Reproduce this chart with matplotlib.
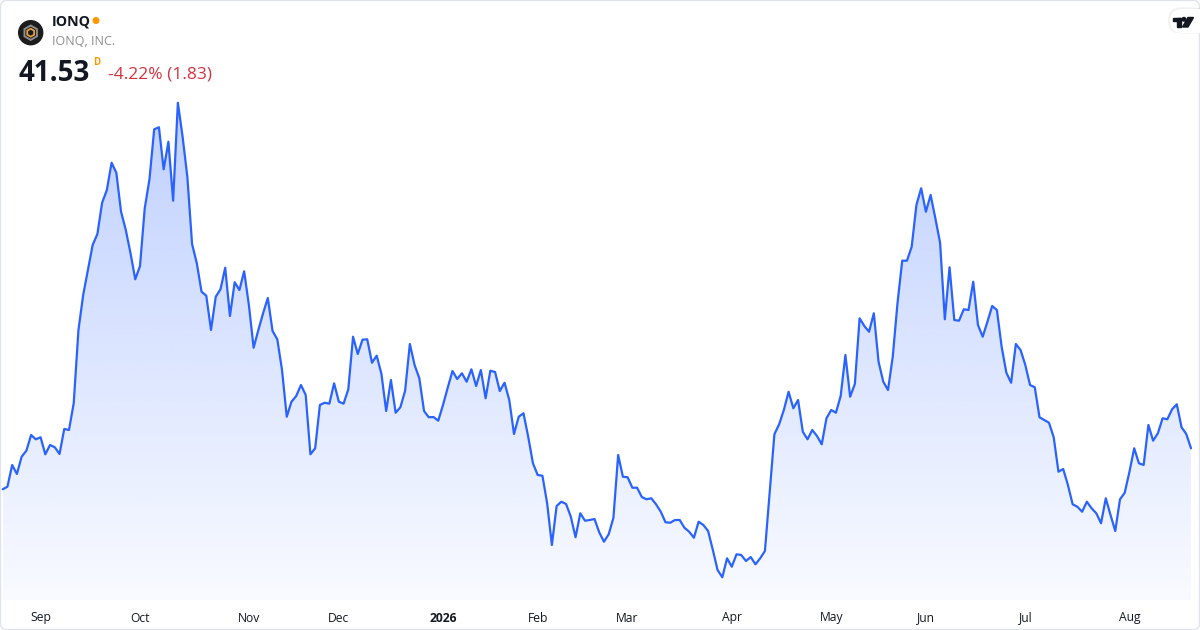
import numpy as np
import matplotlib
matplotlib.use("Agg")
import matplotlib.pyplot as plt
from matplotlib.patches import Circle, RegularPolygon, FancyBboxPatch, Polygon, Rectangle
from matplotlib.colors import to_rgb

# ---------------- data ----------------
ticker = "IONQ"
company = "IONQ, INC."
last_price = 41.53
change_pct = -4.22
change_abs = 1.83

prices = [
    36.28, 36.61, 39.39, 38.24, 40.45, 41.22, 43.23, 42.68, 42.94, 40.76,
    41.95, 41.66, 40.80, 44.00, 43.87, 47.29, 56.67, 61.15, 64.35, 67.55,
    68.96, 72.96, 74.59, 78.08, 76.80, 71.81, 69.47, 66.49, 63.16, 64.86,
    72.25, 75.96, 82.36, 82.62, 77.24, 80.77, 73.22, 85.76, 81.41, 76.29,
    67.68, 65.21,
    61.57, 61.06, 56.67, 60.93, 61.88, 64.64, 58.46, 62.78, 61.79, 64.18,
    59.87, 54.40, 56.67, 58.81, 60.77, 56.54, 55.48, 51.55, 45.57, 47.49,
    48.22, 49.63, 48.35, 40.76, 41.53, 47.07, 47.36, 47.24, 49.85, 47.49,
    47.24, 49.08, 55.81, 53.60, 55.43, 55.48, 52.48, 53.38, 51.04, 46.30,
    50.27, 46.08,
    46.78, 48.90, 54.88, 52.19, 50.49, 46.30, 45.50, 45.53, 45.06, 47.07,
    49.28, 51.42, 50.40, 51.13, 50.05, 51.64, 49.50, 51.55, 47.93, 51.46,
    51.29, 48.86, 49.92, 47.71, 43.36, 45.57, 46.01, 43.01, 39.61, 38.11,
    38.02, 34.49, 29.15, 34.14, 34.69, 34.40, 32.77, 30.14, 33.21, 32.26,
    32.35, 32.48,
    30.78, 29.57, 30.52, 32.64, 40.67, 37.89, 37.82, 36.48, 36.48, 35.29,
    35.00, 35.13, 34.36, 33.41, 32.06, 32.00, 32.35, 32.35, 31.36, 30.85,
    30.08, 32.13, 31.71, 30.94, 28.51, 25.95, 25.02, 27.45, 26.37, 27.96,
    27.87, 27.10, 27.61, 26.68, 27.45, 28.38, 35.77, 43.32, 44.60, 46.43,
    48.77, 46.65, 47.71,
    43.65, 42.68, 43.87, 43.10, 42.04, 45.37, 46.43, 46.08, 48.22, 53.47,
    48.13, 49.76, 58.17, 57.18, 56.45, 58.81, 52.61, 50.05, 48.99, 53.25,
    60.09, 65.54, 65.54, 67.33, 72.67, 74.81, 71.81, 73.95, 70.97, 67.84,
    58.04, 64.70, 57.95, 57.86, 59.32, 59.23, 62.85, 57.31, 55.81, 57.73,
    59.74, 59.23,
    54.53, 51.20, 49.92, 54.88, 54.11, 52.19, 49.63, 49.34, 45.50, 45.15,
    44.80, 42.94, 38.53, 38.88, 36.83, 34.36, 34.05, 33.41, 34.69, 33.85,
    33.21, 31.93, 35.13, 32.99, 30.94, 35.00, 35.84, 38.53, 41.53, 39.61,
    39.39, 44.51, 42.50, 43.45, 45.37, 45.24, 46.52, 47.16, 44.22, 43.36,
    41.53,
]

month_labels = ["Sep", "Oct", "Nov", "Dec", "2026", "Feb", "Mar", "Apr",
                "May", "Jun", "Jul", "Aug"]
month_tick_index = [8, 29, 52, 71, 93, 113, 132, 154, 175, 195, 216, 238]

# ---------------- style ----------------
FONT = ["Open Sans", "DejaVu Sans"]
plt.rcParams["font.family"] = FONT
LINE_COLOR = "#2962ff"
TEXT_DARK = "#131722"
RED = "#d1323f"
ORANGE = "#ff9800"

W, H = 1200, 630
fig = plt.figure(figsize=(W / 100, H / 100), dpi=100)
fig.patch.set_facecolor("white")

# main price axes (fills the whole canvas)
ax = fig.add_axes([0, 0, 1, 1])
ax.axis("off")
n = len(prices)
x = np.arange(n)
x_lo, x_hi = -0.57, 252.9
y_lo, y_hi = 18.27, 98.91
base = 22.11  # bottom of the area fill

# gradient fill under the line
top_alpha, bot_alpha = 0.30, 0.03
grad = np.linspace(top_alpha, bot_alpha, 256)
rgba = np.zeros((256, 1, 4))
rgba[..., :3] = to_rgb(LINE_COLOR)
rgba[:, 0, 3] = grad
im = ax.imshow(rgba, extent=[x[0], x[-1], base, max(prices)], aspect="auto",
               origin="upper", zorder=1, interpolation="bilinear")
poly_xy = np.column_stack([np.r_[x, x[::-1]], np.r_[prices, np.full(n, base)]])
clip = Polygon(poly_xy, closed=True, facecolor="none", edgecolor="none",
               transform=ax.transData)
ax.add_patch(clip)
im.set_clip_path(clip)

ax.plot(x, prices, color=LINE_COLOR, lw=1.6, solid_joinstyle="round",
        solid_capstyle="round", zorder=3)

ax.set_xlim(x_lo, x_hi)
ax.set_ylim(y_lo, y_hi)

# month labels
for lbl, i in zip(month_labels, month_tick_index):
    ax.text(i, 1 - 618 / H, lbl, transform=ax.get_xaxis_transform(),
            ha="center", va="center", fontsize=8.7, color=TEXT_DARK,
            fontweight="bold" if lbl.isdigit() else "normal")

# ---------------- overlay (pixel coordinates) ----------------
ov = fig.add_axes([0, 0, 1, 1], zorder=5)
ov.set_xlim(0, W)
ov.set_ylim(H, 0)
ov.axis("off")
ov.patch.set_alpha(0)

# card border
ov.add_patch(FancyBboxPatch((0.5, 0.5), W - 1, H - 1,
                            boxstyle="round,pad=0,rounding_size=6",
                            facecolor="none", edgecolor="#e0e3eb", lw=1,
                            clip_on=False))

# company logo
ov.add_patch(Circle((30.7, 32.7), 12, color="#1c1c1c"))
ov.add_patch(RegularPolygon((30.7, 32.7), numVertices=6, radius=7.2,
                            orientation=0, facecolor="none",
                            edgecolor="#8d8d8d", lw=1.4))
ov.add_patch(RegularPolygon((30.7, 32.7), numVertices=6, radius=5.0,
                            orientation=0, facecolor="#e9a23b"))
ov.add_patch(RegularPolygon((30.7, 32.7), numVertices=6, radius=3.0,
                            orientation=0, facecolor="#1c1c1c"))

ov.text(51.5, 26, ticker, fontsize=10.3, fontweight="bold", color=TEXT_DARK,
        va="baseline", ha="left")
ov.add_patch(Circle((96, 20.5), 2.8, color=ORANGE))
ov.text(51.5, 45, company, fontsize=9.0, color="#8c8c8c",
        va="baseline", ha="left")

ov.text(18.5, 80.7, f"{last_price:.2f}", fontsize=20, fontweight="bold",
        color=TEXT_DARK, va="baseline", ha="left")
ov.text(93.5, 65, "D", fontsize=7, fontweight="bold", color=ORANGE,
        va="baseline", ha="left")
ov.text(108, 78.5, f"{change_pct:.2f}% ({change_abs:.2f})", fontsize=12.5,
        color=RED, va="baseline", ha="left")

# TradingView badge (top right)
ov.add_patch(FancyBboxPatch((1168, 7.5), 40, 26,
                            boxstyle="round,pad=0,rounding_size=13",
                            facecolor="#000000", alpha=0.06, edgecolor="none",
                            clip_on=True))
ov.add_patch(FancyBboxPatch((1170, 9), 40, 24,
                            boxstyle="round,pad=0,rounding_size=12",
                            facecolor="white", edgecolor="none", clip_on=True))
ov.add_patch(Rectangle((1172.5, 17.5), 8.5, 3.2, color=TEXT_DARK))
ov.add_patch(Rectangle((1177, 17.5), 4, 9.5, color=TEXT_DARK))
ov.add_patch(Circle((1184, 19.3), 1.8, color=TEXT_DARK))
ov.add_patch(Polygon([(1188, 17.5), (1193.5, 17.5), (1188, 27), (1182.5, 27)],
                     closed=True, color=TEXT_DARK))

fig.savefig("out.png", dpi=100, facecolor="white")
